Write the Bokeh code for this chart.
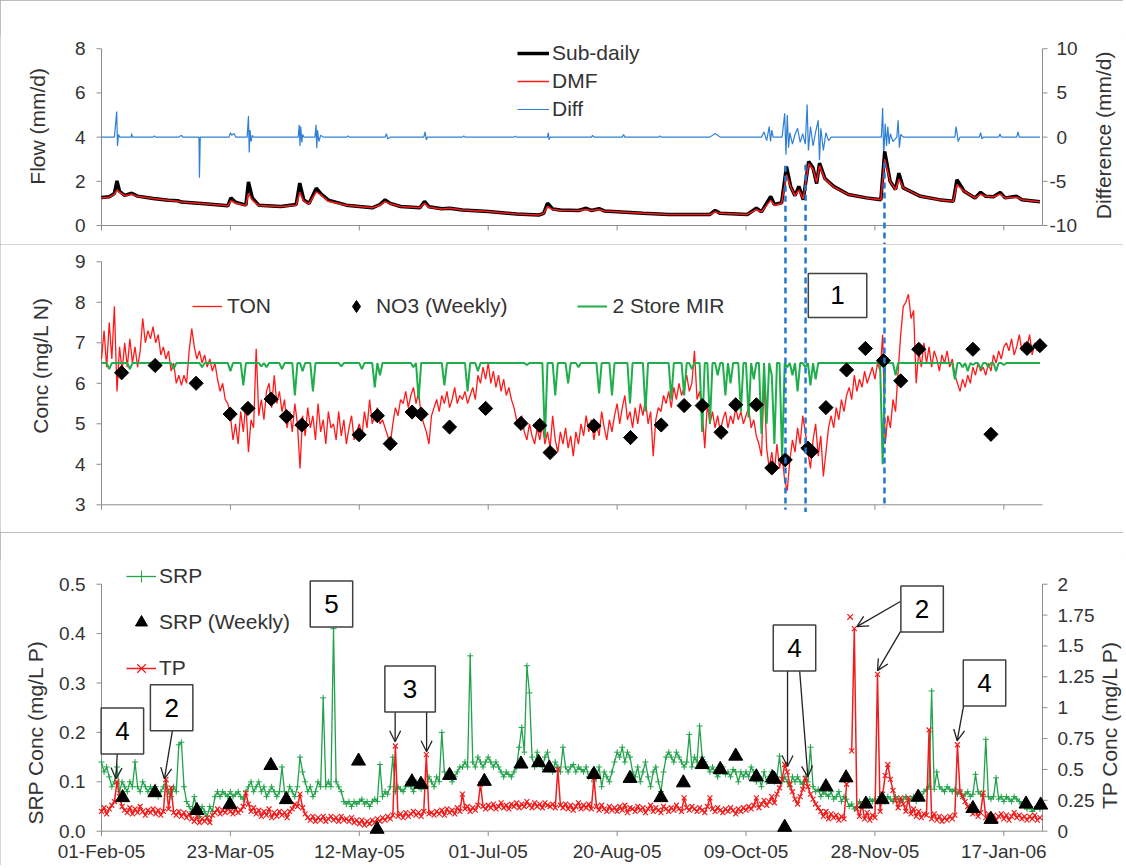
import math
from bokeh.plotting import figure
from bokeh.models import (Range1d, Legend, LegendItem, Label, Arrow, OpenHead)
from bokeh.core.properties import value
from bokeh.layouts import column
from bokeh.embed import file_html
from bokeh.resources import INLINE

FONT = "Liberation Sans"
TXT = "#333333"
AXC = "#8c8c8c"

# ---------------- x axis (days since 01-Feb-05) ----------------
X_END = 365
tick_days = [0, 50, 100, 150, 200, 250, 300, 350]
tick_labels = ["01-Feb-05", "23-Mar-05", "12-May-05", "01-Jul-05",
               "20-Aug-05", "09-Oct-05", "28-Nov-05", "17-Jan-06"]

# ---------------- y axis ticks ----------------
flow_ticks = [0, 2, 4, 6, 8]
flow_tick_labels = ["0", "2", "4", "6", "8"]
diff_ticks = [-10, -5, 0, 5, 10]
diff_tick_labels = ["-10", "-5", "0", "5", "10"]
conc_ticks = [3, 4, 5, 6, 7, 8, 9]
conc_tick_labels = ["3", "4", "5", "6", "7", "8", "9"]
srp_ticks = [0, 0.1, 0.2, 0.3, 0.4, 0.5]
srp_tick_labels = ["0.0", "0.1", "0.2", "0.3", "0.4", "0.5"]
tp_ticks = [0, 0.25, 0.5, 0.75, 1, 1.25, 1.5, 1.75, 2]
tp_tick_labels = ["0", "0.25", "0.5", "0.75", "1", "1.25", "1.5", "1.75", "2"]

# ---------------- panel 1: flow ----------------
flow_day = [0, 3, 5, 6, 7, 9, 11.7, 14, 20, 26, 29.6, 31, 40, 49, 50.2, 52, 56, 57, 58.5, 61,
            69.5, 75.5, 76.9, 78.5, 80.5, 83.3, 85, 88, 95, 105, 108, 110, 112, 116, 123.5, 125.3,
            127, 132, 135, 140, 150, 161, 169.6, 171.5, 173, 175, 178, 185, 188, 190, 193, 195,
            210, 220, 236, 238, 240, 250.5, 254, 256, 259.6, 261, 263.8, 265.7, 267.3, 269, 270.5,
            272.2, 274.3, 276, 277.4, 278.5, 280.6, 284, 289.7, 296.7, 302.3, 303.8, 305.9, 308,
            309.3, 311, 317.7, 324.8, 330.4, 331.8, 334.6, 338.8, 341, 343, 346, 348.6, 350.5,
            354.9, 357, 364]
flow_sub = [1.27, 1.30, 1.45, 2.02, 1.55, 1.36, 1.46, 1.33, 1.22, 1.14, 1.12, 1.06, 0.98, 0.89, 1.25, 1.05, 0.92, 1.97, 1.25, 0.92,
            0.86, 0.95, 1.92, 1.15, 1.00, 1.69, 1.45, 1.15, 0.92, 0.80, 0.95, 1.16, 1.00, 0.86, 0.80, 1.09,
            0.85, 0.76, 0.78, 0.70, 0.63, 0.52, 0.47, 0.55, 1.01, 0.75, 0.70, 0.68, 0.78, 0.68, 0.76, 0.66,
            0.55, 0.50, 0.50, 0.68, 0.55, 0.50, 0.78, 0.62, 1.32, 0.95, 1.03, 2.67, 1.77, 1.35, 1.77,
            1.17, 2.90, 2.60, 1.90, 2.82, 2.13, 1.77, 1.40, 1.25, 1.17, 3.35, 2.00, 1.63,
            2.37, 1.70, 1.32, 1.17, 1.10, 2.07, 1.55, 1.25, 1.50, 1.32, 1.30, 1.50, 1.25,
            1.32, 1.17, 1.07]
flow_dmf = [1.25, 1.28, 1.42, 1.60, 1.50, 1.35, 1.42, 1.32, 1.22, 1.14, 1.10, 1.06, 0.98, 0.89, 1.12, 1.02, 0.90, 1.45, 1.15, 0.90,
            0.86, 0.92, 1.50, 1.10, 0.98, 1.52, 1.40, 1.10, 0.92, 0.80, 0.92, 1.08, 0.98, 0.86, 0.80, 1.00,
            0.83, 0.75, 0.78, 0.70, 0.63, 0.52, 0.47, 0.55, 0.85, 0.72, 0.69, 0.68, 0.72, 0.68, 0.72, 0.66,
            0.55, 0.50, 0.50, 0.62, 0.55, 0.50, 0.72, 0.62, 1.15, 0.92, 1.00, 2.30, 1.75, 1.35, 1.60,
            1.20, 2.80, 2.55, 1.95, 2.70, 2.10, 1.75, 1.40, 1.25, 1.17, 3.00, 2.00, 1.62,
            2.10, 1.70, 1.32, 1.17, 1.10, 1.85, 1.55, 1.25, 1.42, 1.32, 1.30, 1.42, 1.25,
            1.28, 1.17, 1.07]

diff_day = [0, 5, 5.9, 6.2, 6.6, 7, 11.5, 11.7, 12, 20, 20.5, 21, 30, 31, 31.5, 37.8, 38, 38.3,
            49.5, 50, 50.5, 51.5, 52, 56.5, 57, 57.3, 57.6, 58, 58.5, 59, 76.3, 76.7, 77, 77.3,
            77.7, 78, 78.5, 82.8, 83.2, 83.5, 83.8, 84.3, 85, 86, 95, 95.5, 96, 110, 110.5, 111,
            112, 125, 125.5, 126, 126.5, 140, 140.5, 141, 160, 160.5, 161, 173, 173.3, 173.6, 174,
            190, 190.5, 191, 202, 202.5, 203, 216, 216.5, 217, 236, 238, 239, 240, 256, 257, 258,
            259, 259.5, 260, 260.5, 264, 265, 265.5, 266, 266.5, 267, 268, 269, 270, 271, 272,
            273, 273.7, 274.2, 275, 276, 277, 278, 278.5, 279, 280, 281, 282, 283, 302.5, 303,
            303.4, 304, 304.5, 305, 305.5, 306, 307, 308.5, 309, 309.5, 310, 311, 331, 331.5,
            332.3, 333, 340.5, 341, 341.5, 342, 348, 348.5, 349, 355, 355.5, 356, 364]
diff_val = [0, 0, 2.9, -1.0, 0.3, 0, 0, 0.4, 0, 0, 0.15, 0, 0, 0.2, 0, 0, -4.6, 0,
            0, 0.5, 0.2, 0.4, 0, 0, 2.4, -1.75, 0.8, -0.5, 0.2, 0, 0, 1.4, -1.0, 1.2,
            -0.6, 0.3, 0, 0, 1.4, -1.25, 0.8, -0.5, 0.2, 0, 0, 0.15, 0, 0, 0.4, -0.2,
            0, 0, 0.6, -0.3, 0, 0, 0.15, 0, 0, 0.1, 0, 0, 0.5, -0.3, 0,
            0, 0.2, 0, 0, 0.3, 0, 0, 0.15, 0, 0, 0.4, 0.2, 0, 0, 0.6, -0.4,
            1.2, -0.5, 0.8, 0, 0, 2.7, -2.0, 2.5, -1.2, 0.5, -0.8, 0.3, 1.0, -0.6, 0.4,
            -0.8, 3.7, -1.5, 1.2, -1.0, 0.6, 1.9, -2.6, 1.0, -1.5, 0.5, -0.4, 0, 0, 3.3,
            -2.2, 1.5, -1.0, 1.2, -0.8, 0.4, -0.5, 0, 1.9, -1.2, 0.3, 0, 0, 1.2,
            -0.5, 0, 0, 0.5, -0.2, 0, 0, 0.35, 0, 0, 0.6, 0, 0]

dash_day = [265.3, 273.1, 303.7]
dash_top_flow = [2.7, 2.75, 2.85]
dash_bot_conc = [2.88, 2.82, 2.93]

# ---------------- panel 2: nitrogen ----------------
ton = [6.6, 7.3, 6.4, 7.5, 6.6, 7.9, 5.8, 6.9, 6.3, 7.0,
       6.4, 7.1, 6.5, 6.9, 6.4, 6.8, 7.6, 7.0, 7.3, 7.1,
       7.4, 7.0, 7.2, 6.7, 6.9, 6.6, 6.8, 6.3, 6.5, 6.0,
       6.2, 5.95, 6.2, 6.0, 6.8, 7.35, 6.9, 6.6, 6.8, 6.5,
       6.7, 6.4, 6.6, 6.3, 6.5, 6.1, 5.8, 6.0, 5.6, 5.5,
       5.2, 4.6, 5.0, 4.5, 5.3, 4.8, 5.5, 4.3, 5.1, 4.9,
       6.85, 5.2, 5.6, 5.1, 5.8, 6.0, 5.4, 6.2, 5.5, 5.8,
       5.3, 5.6, 4.9, 5.3, 4.8, 5.5, 5.0, 3.9, 5.2, 4.7,
       5.4, 4.9, 5.2, 4.6, 5.5, 4.8, 5.1, 4.5, 5.3, 4.9,
       5.0, 4.6, 5.3, 4.7, 5.1, 4.5, 4.9, 5.2, 4.6, 4.8,
       5.0, 4.7, 5.3, 4.9, 5.6, 5.0, 5.2, 5.4, 5.0, 5.1,
       4.9, 4.7, 4.5, 5.0, 5.4, 5.2, 5.6, 5.5, 5.8, 5.4,
       5.7, 5.9, 5.5, 5.8, 5.2, 5.0, 4.8, 4.5, 5.2, 5.4,
       5.6, 5.3, 5.7, 5.5, 5.8, 5.4, 5.6, 5.9, 5.5, 5.7,
       5.6, 5.8, 5.5, 5.7, 5.9, 5.6, 6.2, 6.0, 6.4, 6.1,
       6.5, 6.0, 6.3, 5.9, 6.2, 5.8, 6.1, 5.7, 5.9, 5.6,
       5.4, 5.1, 4.9, 5.2, 4.8, 4.6, 5.0, 4.7, 4.5, 4.9,
       4.6, 5.0, 4.5, 4.8, 4.4, 5.2, 4.6, 4.3, 4.8, 4.5,
       4.9, 4.4, 4.7, 4.2, 4.8, 4.5, 5.0, 4.7, 5.2, 4.8,
       5.1, 4.6, 5.0, 4.7, 5.3, 4.9, 4.6, 5.1, 4.8, 5.2,
       5.5, 5.0, 5.4, 5.7, 5.1, 5.3, 4.9, 5.4, 5.0, 5.5,
       5.2, 5.6, 5.0, 5.3, 4.2, 5.1, 5.4, 5.3, 5.7, 5.5,
       5.8, 5.4, 5.9, 5.6, 6.0, 5.7, 5.9, 6.2, 5.8, 6.0,
       6.8, 5.6, 5.8, 5.3, 4.4, 5.5, 5.0, 5.3, 4.9, 5.2,
       4.8, 5.1, 5.3, 4.9, 5.2, 5.0, 5.4, 5.1, 5.3, 5.0,
       5.2, 5.4, 4.9, 5.1, 4.7, 4.5, 4.2, 6.1, 4.4, 3.9,
       4.3, 3.8, 4.5, 3.9, 4.2, 3.6, 3.35, 4.1, 4.6, 4.3,
       4.9, 4.5, 5.2, 4.8, 4.3, 3.9, 4.6, 5.0, 4.2, 4.7,
       3.7, 4.3, 4.9, 5.2, 4.9, 5.4, 5.1, 5.6, 5.3, 5.7,
       5.9, 5.6, 6.2, 5.8, 6.1, 5.9, 6.3, 6.0, 6.2, 6.4,
       6.1, 6.5, 6.3, 7.2, 4.5, 5.2, 4.9, 5.6, 5.3, 6.3,
       7.2, 7.9, 8.0, 8.2, 7.6, 7.8, 6.0, 6.8, 6.4, 7.0,
       6.5, 6.9, 6.4, 6.8, 6.6, 6.3, 6.7, 6.5, 6.8, 6.4,
       6.6, 6.2, 6.0, 5.8, 6.1, 5.9, 6.2, 6.0, 6.4, 6.2,
       6.5, 6.3, 6.4, 6.2, 6.5, 6.3, 6.7, 6.5, 6.8, 6.6,
       6.9, 7.0, 6.8, 7.1, 6.7, 6.9, 7.2, 6.8, 7.0, 6.9,
       7.2, 6.7, 7.0, 6.8, 6.9]

mir = [6.5, 6.5, 6.5, 6.35, 6.5, 6.5, 6.5, 6.5, 6.5, 6.5,
       6.5, 6.35, 6.5, 6.5, 6.5, 6.5, 6.5, 6.5, 6.5, 6.5,
       6.5, 6.5, 6.5, 6.5, 6.5, 6.5, 6.5, 6.5, 6.35, 6.5,
       6.5, 6.5, 6.5, 6.5, 6.5, 6.5, 6.5, 6.5, 6.5, 6.4,
       6.5, 6.5, 6.5, 6.5, 6.5, 6.5, 6.5, 6.5, 6.5, 6.5,
       6.3, 6.5, 6.5, 6.5, 6.5, 5.95, 6.5, 6.5, 6.5, 6.5,
       6.5, 6.5, 6.42, 6.5, 6.4, 6.5, 6.5, 6.5, 6.5, 6.5,
       6.35, 6.5, 6.5, 6.5, 6.5, 5.7, 6.5, 6.5, 6.3, 6.5,
       6.5, 6.5, 5.8, 6.5, 6.5, 6.5, 6.5, 6.5, 6.5, 6.5,
       6.5, 6.5, 6.5, 6.42, 6.5, 6.5, 6.5, 6.5, 6.5, 6.5,
       6.5, 6.35, 6.5, 6.5, 6.5, 6.5, 5.9, 6.5, 6.2, 6.5,
       6.5, 6.5, 6.5, 6.5, 6.5, 6.5, 6.5, 6.5, 6.5, 6.5,
       6.5, 6.4, 6.5, 5.6, 6.5, 6.5, 6.5, 6.5, 6.5, 6.5,
       6.5, 6.5, 6.5, 5.95, 6.5, 6.5, 6.5, 6.5, 6.5, 6.5,
       6.5, 6.5, 5.8, 6.5, 6.5, 6.5, 6.3, 6.5, 6.5, 6.5,
       6.5, 6.5, 6.5, 6.5, 6.5, 6.5, 6.5, 6.5, 6.5, 6.5,
       6.5, 6.5, 6.5, 6.5, 6.5, 6.45, 6.5, 6.5, 6.5, 6.5,
       6.5, 6.5, 4.65, 6.5, 6.5, 6.5, 5.7, 6.5, 6.5, 6.5,
       6.5, 6.0, 6.5, 6.5, 6.5, 6.4, 6.5, 6.5, 6.5, 6.5,
       6.5, 6.5, 6.5, 5.75, 6.5, 6.5, 6.5, 6.5, 5.7, 6.5,
       6.5, 6.5, 6.5, 6.5, 6.5, 5.5, 6.5, 6.5, 6.5, 6.5,
       6.5, 5.3, 6.5, 6.5, 6.5, 6.5, 6.5, 6.5, 6.5, 6.5,
       6.5, 5.6, 6.5, 6.5, 6.5, 6.5, 5.7, 6.5, 6.5, 6.35,
       6.5, 6.5, 6.5, 4.8, 6.5, 6.5, 5.0, 6.5, 6.5, 6.2,
       6.5, 6.5, 5.7, 6.5, 6.0, 6.5, 6.5, 6.5, 5.3, 6.5,
       6.5, 5.15, 6.5, 6.1, 6.5, 6.5, 4.75, 6.5, 5.0, 6.5,
       6.2, 4.5, 6.5, 6.5, 4.15, 6.5, 6.4, 6.5, 6.2, 6.5,
       5.8, 6.5, 6.5, 6.4, 6.5, 5.95, 6.5, 6.1, 6.5, 6.5,
       6.5, 6.5, 6.5, 6.5, 6.5, 6.5, 6.5, 6.5, 6.5, 6.5,
       6.5, 6.5, 6.5, 6.5, 6.5, 6.5, 6.5, 6.5, 6.5, 6.5,
       6.5, 6.5, 6.5, 4.0, 6.5, 6.5, 6.5, 6.5, 6.2, 6.5,
       6.5, 6.5, 6.5, 6.5, 6.5, 6.5, 6.5, 6.5, 6.5, 6.5,
       6.5, 6.5, 6.5, 6.5, 6.5, 6.5, 6.5, 6.5, 6.5, 6.5,
       6.5, 6.1, 6.5, 6.5, 6.4, 6.5, 6.3, 6.5, 6.45, 6.5,
       6.5, 6.35, 6.5, 6.5, 6.4, 6.5, 6.5, 6.3, 6.5, 6.5,
       6.45, 6.5, 6.5, 6.5, 6.5, 6.5, 6.5, 6.5, 6.5, 6.5,
       6.5, 6.5, 6.5, 6.5, 6.5]

no3_day = [7.8, 20.8, 36.7, 49.9, 56.8, 65.8, 71.7, 77.7, 99.9, 107, 112, 120.5, 124, 135,
           149, 162.7, 170, 174, 191, 205.2, 217.1, 226, 233, 240.3, 246, 254, 260, 265.2,
           274, 275.4, 281, 289, 296.3, 303.3, 310, 317, 338, 345, 359, 364]
no3_val = [6.26, 6.44, 6.0, 5.24, 5.38, 5.61, 5.18, 4.97, 4.73, 5.2, 4.51, 5.29, 5.24, 4.92,
           5.38, 5.01, 4.96, 4.29, 4.95, 4.66, 4.97, 5.45, 5.45, 4.79, 5.47, 5.47, 3.91, 4.11,
           4.4, 4.32, 5.4, 6.33, 6.86, 6.56, 6.06, 6.84, 6.84, 4.74, 6.86, 6.93]

# ---------------- panel 3: phosphorus ----------------
srp = [0.14, 0.12, 0.13, 0.11, 0.09, 0.10, 0.13, 0.08, 0.10, 0.09,
       0.08, 0.10, 0.09, 0.14, 0.09, 0.08, 0.10, 0.09, 0.08, 0.09,
       0.08, 0.09, 0.07, 0.08, 0.09, 0.10, 0.08, 0.07, 0.09, 0.08,
       0.175, 0.18, 0.09, 0.06, 0.05, 0.04, 0.07, 0.04, 0.03, 0.05,
       0.04, 0.03, 0.05, 0.04, 0.07, 0.08, 0.07, 0.08, 0.075, 0.07,
       0.08, 0.07, 0.075, 0.08, 0.07, 0.065, 0.08, 0.09, 0.10, 0.08,
       0.09, 0.10, 0.08, 0.09, 0.07, 0.08, 0.09, 0.08, 0.07, 0.08,
       0.13, 0.08, 0.07, 0.09, 0.08, 0.07, 0.09, 0.15, 0.12, 0.10,
       0.08, 0.09, 0.07, 0.08, 0.10, 0.09, 0.27, 0.09, 0.10, 0.09,
       0.41, 0.10, 0.09, 0.08, 0.06, 0.055, 0.06, 0.05, 0.06, 0.055,
       0.06, 0.065, 0.055, 0.06, 0.05, 0.06, 0.065, 0.06, 0.135, 0.07,
       0.08, 0.075, 0.09, 0.15, 0.08, 0.09, 0.085, 0.08, 0.09, 0.10,
       0.09, 0.08, 0.10, 0.09, 0.085, 0.10, 0.09, 0.11, 0.10, 0.09,
       0.11, 0.10, 0.20, 0.12, 0.11, 0.12, 0.10, 0.11, 0.12, 0.13,
       0.13, 0.14, 0.13, 0.355, 0.14, 0.13, 0.15, 0.14, 0.13, 0.14,
       0.15, 0.14, 0.13, 0.14, 0.13, 0.12, 0.11, 0.12, 0.115, 0.11,
       0.12, 0.13, 0.17, 0.21, 0.16, 0.335, 0.28, 0.15, 0.13, 0.16,
       0.14, 0.13, 0.15, 0.16, 0.13, 0.12, 0.14, 0.13, 0.12, 0.17,
       0.13, 0.12, 0.13, 0.135, 0.12, 0.13, 0.125, 0.12, 0.13, 0.11,
       0.12, 0.10, 0.11, 0.13, 0.09, 0.12, 0.11, 0.10, 0.12, 0.14,
       0.16, 0.15, 0.17, 0.14, 0.16, 0.15, 0.12, 0.11, 0.13, 0.10,
       0.12, 0.14, 0.11, 0.09, 0.12, 0.13, 0.10, 0.08, 0.12, 0.15,
       0.16, 0.15, 0.14, 0.16, 0.15, 0.14, 0.13, 0.14, 0.196, 0.13,
       0.15, 0.14, 0.213, 0.15, 0.14, 0.13, 0.12, 0.13, 0.12, 0.11,
       0.12, 0.13, 0.115, 0.12, 0.11, 0.125, 0.12, 0.10, 0.12, 0.11,
       0.12, 0.11, 0.13, 0.12, 0.10, 0.11, 0.09, 0.12, 0.10, 0.11,
       0.12, 0.10, 0.11, 0.152, 0.10, 0.11, 0.10, 0.09, 0.11, 0.10,
       0.11, 0.10, 0.095, 0.11, 0.10, 0.17, 0.09, 0.08, 0.085, 0.07,
       0.08, 0.075, 0.07, 0.08, 0.065, 0.07, 0.08, 0.06, 0.07, 0.065,
       0.05, 0.055, 0.045, 0.05, 0.06, 0.05, 0.055, 0.06, 0.065, 0.06,
       0.065, 0.06, 0.07, 0.065, 0.06, 0.07, 0.065, 0.06, 0.07, 0.065,
       0.06, 0.065, 0.07, 0.06, 0.065, 0.07, 0.06, 0.065, 0.07, 0.08,
       0.085, 0.09, 0.284, 0.085, 0.12, 0.09, 0.085, 0.08, 0.09, 0.085,
       0.08, 0.085, 0.075, 0.08, 0.07, 0.075, 0.08, 0.07, 0.075, 0.115,
       0.08, 0.075, 0.07, 0.186, 0.07, 0.065, 0.07, 0.108, 0.065, 0.07,
       0.06, 0.07, 0.065, 0.06, 0.07, 0.065, 0.06, 0.055, 0.05, 0.045,
       0.05, 0.04, 0.045, 0.05, 0.045]

NAN = float("nan")
tp = [0.16, 0.19, 0.14, 0.18, 0.21, 0.24, 0.40, 0.28, 0.20, 0.17,
      0.15, 0.19, 0.14, 0.18, 0.15, 0.20, 0.16, 0.13, 0.17, 0.15,
      0.18, 0.14, 0.17, 0.13, 0.16, 0.42, 0.18, 0.35, 0.15, 0.13,
      0.16, 0.12, 0.15, 0.11, 0.14, 0.10, 0.08, 0.12, 0.07, 0.10,
      0.08, 0.11, 0.07, 0.13, 0.15, 0.18, 0.14, 0.17, 0.15, 0.19,
      0.16, 0.14, 0.18, 0.15, 0.17, 0.20, 0.31, 0.22, 0.16, 0.19,
      0.14, 0.17, 0.12, 0.16, 0.13, 0.18, 0.11, 0.15, 0.12, 0.16,
      0.13, 0.15, 0.11, 0.16, 0.18, 0.22, 0.20, 0.30, 0.19, 0.14,
      0.11, 0.09, 0.12, 0.08, 0.11, 0.09, 0.12, 0.08, 0.10, 0.12,
      0.09, 0.11, 0.08, 0.12, 0.09, 0.10, 0.08, 0.11, 0.07, 0.09,
      0.06, 0.09, 0.05, 0.08, 0.06, 0.09, 0.07, 0.10, 0.08, 0.11,
      0.09, 0.12, 0.10, 0.13, 0.69, 0.12, 0.14, 0.11, 0.15, 0.12,
      0.14, 0.16, 0.13, 0.15, 0.12, 0.16, 0.62, 0.14, 0.15, 0.13,
      0.16, 0.14, 0.17, 0.13, 0.18, 0.15, 0.17, 0.14, 0.19, 0.16,
      0.30, 0.18, 0.20, 0.16, 0.19, 0.17, 0.21, 0.38, 0.20, 0.18,
      0.21, 0.19, 0.22, 0.18, 0.20, 0.23, 0.19, 0.21, 0.18, 0.22,
      0.20, 0.23, 0.19, 0.22, 0.20, 0.24, 0.21, 0.19, 0.23, 0.20,
      0.22, 0.19, 0.23, 0.21, 0.20, 0.22, 0.19, 0.50, 0.21, 0.19,
      0.22, 0.18, 0.21, 0.17, 0.20, 0.23, 0.18, 0.21, 0.19, 0.22,
      0.18, 0.43, 0.20, 0.17, 0.21, 0.18, 0.16, 0.20, 0.17, 0.19,
      0.16, 0.20, 0.17, 0.21, 0.15, 0.19, 0.18, 0.16, 0.20, 0.17,
      0.19, 0.15, 0.18, 0.21, 0.16, 0.19, 0.17, 0.15, 0.20, 0.18,
      0.16, 0.19, 0.17, 0.21, 0.18, 0.16, 0.27, 0.19, 0.17, 0.20,
      0.18, 0.16, 0.19, 0.17, 0.15, 0.20, 0.27, 0.18, 0.16, 0.19,
      0.17, 0.15, 0.18, 0.16, 0.19, 0.17, 0.14, 0.18, 0.16, 0.19,
      0.17, 0.20, 0.18, 0.21, 0.27, 0.19, 0.22, 0.25, 0.21, 0.24,
      0.28, 0.23, 0.30, 0.35, 0.42, 0.54, 0.48, 0.38, 0.32, 0.26,
      0.22, 0.28, 0.34, 0.43, 0.36, 0.30, 0.26, 0.22, 0.19, 0.16,
      0.12, 0.16, 0.10, 0.14, 0.11, 0.13, 0.09, 0.12, 0.10, 0.38,
      NAN, 0.65, 1.64, 0.18, 0.12, 0.22, 0.10, 0.15, 0.09, 0.13,
      0.11, 1.27, 0.16, 0.30, 0.45, 0.54, 0.42, 0.33, 0.25, 0.19,
      0.27, 0.22, 0.16, 0.27, 0.14, 0.18, 0.12, 0.16, 0.11, 0.14,
      0.13, 0.82, 0.10, 0.14, 0.09, 0.12, 0.08, 0.11, 0.09, 0.12,
      0.10, 0.13, 0.70, 0.32, 0.28, 0.24, 0.20, 0.17, 0.14, 0.16,
      0.12, 0.15, 0.31, 0.11, 0.14, 0.10, 0.13, 0.09, 0.12, 0.14,
      0.10, 0.13, 0.09, 0.12, 0.15, 0.11, 0.13, 0.10, 0.12, 0.09,
      0.12, 0.10, 0.13, 0.09, 0.11]
tp_lone_day = [290.4]
tp_lone_val = [1.735]

srpw_day = [8.2, 20.7, 37, 49.8, 65.7, 71.7, 99.7, 106.9, 120.4, 123.9, 135, 148.5, 162.7,
            169.6, 173.7, 191, 205, 217, 225.7, 233, 240, 246, 254, 260.3, 261, 265, 281,
            288.8, 296.5, 302.8, 316.8, 338, 345, 358.6, 364.3]
srpw_val = [0.068, 0.078, 0.042, 0.054, 0.133, 0.064, 0.142, 0.004, 0.1, 0.095, 0.113, 0.101,
            0.136, 0.139, 0.128, 0.115, 0.107, 0.068, 0.098, 0.135, 0.125, 0.152, 0.11, 0.108,
            0.105, 0.008, 0.09, 0.108, 0.055, 0.064, 0.069, 0.046, 0.024, 0.055, 0.053]

# numbered call-out boxes (day, value on left axis, text)
box_day = [8.1, 27.2, 89.2, 119.7, 268.8, 318.3, 342.5]
box_val = [0.203, 0.25, 0.46, 0.288, 0.371, 0.45, 0.30]
box_txt = ["4", "2", "5", "3", "4", "2", "4"]
box_pad = [14, 14, 14, 18, 14, 14, 14]
arr_x0 = [6.1, 27.5, 113.9, 126.1, 266.1, 270.8, 309.9, 309.9, 334.4]
arr_y0 = [0.157, 0.203, 0.242, 0.242, 0.325, 0.325, 0.465, 0.404, 0.254]
arr_x1 = [5.6, 24.4, 113.9, 126.1, 266.1, 274.0, 293.0, 301.0, 331.9]
arr_y1 = [0.106, 0.106, 0.181, 0.161, 0.131, 0.11, 0.414, 0.325, 0.183]

# ---------------- layout geometry ----------------
W = 1123
LEFT_PX = 101                       # plot-area left edge inside each figure
PX_DAY = 941 / X_END                # plot-area width of the original / days
XR0 = -LEFT_PX / PX_DAY
XR1 = (W - LEFT_PX) / PX_DAY
SRP_PX = 494                        # pixels per mg/L on the SRP axis


def px(n):
    """n screen pixels expressed in days along x."""
    return n / PX_DAY


def make_fig(h, y0, y1, mbt, mbb):
    p = figure(width=W, height=h, x_range=Range1d(XR0, XR1), y_range=Range1d(y0, y1),
               output_backend="svg", toolbar_location=None,
               min_border_left=0, min_border_right=0, min_border_top=mbt, min_border_bottom=mbb)
    p.xgrid.visible = False
    p.ygrid.visible = False
    p.xaxis.visible = False
    p.yaxis.visible = False
    p.outline_line_color = None
    p.background_fill_color = "white"
    p.border_fill_color = "white"
    p.styles = {"outline": "1.5px solid #a9a9a9", "outline-offset": "-1.5px"}
    return p


def draw_y_axis(p, ticks, labels, side, title, title_px, title_y, range_name="default",
                label_px=16, neg_shift=0):
    x_ax = 0 if side == "left" else X_END
    sgn = -1 if side == "left" else 1
    kw = {} if range_name == "default" else {"y_range_name": range_name}
    p.segment(x0=[x_ax], y0=[ticks[0]], x1=[x_ax], y1=[ticks[-1]],
              line_color=AXC, line_width=1, **kw)
    p.segment(x0=[x_ax] * len(ticks), y0=ticks, x1=[x_ax + sgn * px(5)] * len(ticks), y1=ticks,
              line_color=AXC, line_width=1, **kw)
    lx = [x_ax + sgn * px(label_px) - (px(neg_shift) if lab.startswith("-") else 0)
          for lab in labels]
    p.text(x=lx, y=ticks, text=labels, text_align="right" if side == "left" else "left",
           text_baseline="middle", text_font=value(FONT), text_font_size="19px",
           text_color=TXT, **kw)
    p.add_layout(Label(x=x_ax + sgn * px(title_px), y=title_y, text=title, angle=math.pi / 2,
                       text_align="center", text_baseline="middle", text_font=FONT,
                       text_font_size="21px", text_color=TXT, **kw))


def draw_x_axis(p, y_axis, tick_len, labels=None, label_y=None):
    p.segment(x0=[0], y0=[y_axis], x1=[X_END], y1=[y_axis], line_color=AXC, line_width=1)
    p.segment(x0=tick_days, y0=[y_axis] * len(tick_days), x1=tick_days,
              y1=[y_axis - tick_len] * len(tick_days), line_color=AXC, line_width=1)
    if labels:
        p.text(x=tick_days, y=[label_y] * len(tick_days), text=labels, text_align="center",
               text_baseline="middle", text_font=value(FONT), text_font_size="19px",
               text_color=TXT)


def make_legend(items, x, y, orientation, gw, gh, spacing, standoff):
    return Legend(items=items, location=(x, y), orientation=orientation,
                  background_fill_alpha=0, border_line_color=None, padding=0, margin=0,
                  label_text_font=FONT, label_text_font_size="21px", label_text_color=TXT,
                  glyph_width=gw, glyph_height=gh, label_height=gh, spacing=spacing,
                  label_standoff=standoff)


# ================= panel 1 =================
p1 = make_fig(244, -0.86, 8.6, 35, 0)
p1.extra_y_ranges = {"diff": Range1d(-12.15, 11.5)}
draw_x_axis(p1, 0, 0.226)
draw_y_axis(p1, flow_ticks, flow_tick_labels, "left", "Flow (mm/d)", 64, 4.49)
draw_y_axis(p1, diff_ticks, diff_tick_labels, "right", "Difference (mm/d)", 61, 0.2,
            range_name="diff", label_px=14, neg_shift=7)

r_diff = p1.line(diff_day, diff_val, y_range_name="diff", line_color="#2f80d4", line_width=1.2)
r_sub = p1.line(flow_day, flow_sub, line_color="black", line_width=3.5)
r_dmf = p1.line(flow_day, flow_dmf, line_color="#ff1a1a", line_width=1.5)
for d, t in zip(dash_day, dash_top_flow):
    p1.add_layout(Arrow(end=None, x_start=d, y_start=t, x_end=d, y_end=-1.0,
                        line_color="#1f78d4", line_width=2.5, line_dash="6 4"))
p1.add_layout(make_legend([LegendItem(label="Sub-daily", renderers=[r_sub]),
                           LegendItem(label="DMF", renderers=[r_dmf]),
                           LegendItem(label="Diff", renderers=[r_diff])],
                          517, 123, "vertical", 32, 24, 4, 3))

# ================= panel 2 =================
p2 = make_fig(288, 2.316, 9.427, 0, 0)
draw_x_axis(p2, 3, 0.123)
draw_y_axis(p2, conc_ticks, conc_tick_labels, "left", "Conc (mg/L N)", 61, 6.44)

r_ton = p2.line(list(range(len(ton))), ton, line_color="#ff1a1a", line_width=1.3)
r_mir = p2.line(list(range(len(mir))), mir, line_color="#1fae4b", line_width=2)
p2.scatter(no3_day, no3_val, marker="square", angle=math.pi / 4, size=10, color="black")
# legend swatch for the weekly nitrate diamonds (a single missing value, never drawn)
r_no3_key = p2.scatter([NAN], [NAN], marker="diamond", size=16, color="black")
for d, b in zip(dash_day, dash_bot_conc):
    p2.add_layout(Arrow(end=None, x_start=d, y_start=9.6, x_end=d, y_end=b,
                        line_color="#1f78d4", line_width=2.5, line_dash="6 4"))
p2.add_layout(Label(x=285.5, y=8.17, text="1", text_font=FONT, text_font_size="26px",
                    text_color="black", text_align="center", text_baseline="middle",
                    background_fill_color="white", border_line_color="#404040",
                    border_line_width=1.5,
                    padding=dict(left=22, right=22, top=13, bottom=13)))
p2.add_layout(make_legend([LegendItem(label="TON", renderers=[r_ton]),
                           LegendItem(label="NO3 (Weekly)", renderers=[r_no3_key]),
                           LegendItem(label="2 Store MIR", renderers=[r_mir])],
                          192, 211, "horizontal", 30, 30, 70, 5))

# ================= panel 3 =================
P3_H = 333
P3_TOP = 27
SRP_TOP = 0.55
srp_bottom = SRP_TOP - (P3_H - P3_TOP) / SRP_PX
p3 = make_fig(P3_H, srp_bottom, SRP_TOP, P3_TOP, 0)
p3.extra_y_ranges = {"tp": Range1d(srp_bottom * 4, SRP_TOP * 4)}
draw_x_axis(p3, 0, 5 / SRP_PX, tick_labels, -20.5 / SRP_PX)
draw_y_axis(p3, srp_ticks, srp_tick_labels, "left", "SRP Conc (mg/L P)", 66, 0.2)
draw_y_axis(p3, tp_ticks, tp_tick_labels, "right", "TP Conc (mg/L P)", 67, 0.86,
            range_name="tp", label_px=15)

GREEN = "#22a24a"
RED = "#f01c1c"
srp_days = list(range(len(srp)))
tp_days = list(range(len(tp)))
r_srp_l = p3.line(srp_days, srp, line_color=GREEN, line_width=1.3)
r_srp_m = p3.scatter(srp_days, srp, marker="cross", size=6, line_color=GREEN, line_width=1)
r_tp_l = p3.line(tp_days, tp, y_range_name="tp", line_color=RED, line_width=1.5)
r_tp_m = p3.scatter(tp_days, tp, y_range_name="tp", marker="x", size=7, line_color=RED, line_width=1.2)
p3.scatter(tp_lone_day, tp_lone_val, y_range_name="tp", marker="x", size=8, line_color=RED, line_width=1.2)
r_srpw = p3.scatter(srpw_day, srpw_val, marker="triangle", size=14, color="black")

for x0, y0, x1, y1 in zip(arr_x0, arr_y0, arr_x1, arr_y1):
    p3.add_layout(Arrow(end=OpenHead(size=11, line_color="#222222", line_width=1.3),
                        x_start=x0, y_start=y0, x_end=x1, y_end=y1,
                        line_color="#222222", line_width=1.3))
for d, v, t, pad in zip(box_day, box_val, box_txt, box_pad):
    p3.add_layout(Label(x=d, y=v, text=t, text_font=FONT, text_font_size="26px",
                        text_color="black", text_align="center", text_baseline="middle",
                        background_fill_color="white", border_line_color="#404040",
                        border_line_width=1.5,
                        padding=dict(left=pad, right=pad, top=14, bottom=14)))
p3.add_layout(make_legend([LegendItem(label="SRP", renderers=[r_srp_l, r_srp_m]),
                           LegendItem(label="SRP (Weekly)", renderers=[r_srpw]),
                           LegendItem(label="TP", renderers=[r_tp_l, r_tp_m])],
                          126, 182, "vertical", 30, 30, 16, 3))

layout = column(p1, p2, p3, spacing=0)
open("out.html", "w").write(file_html(layout, INLINE))
